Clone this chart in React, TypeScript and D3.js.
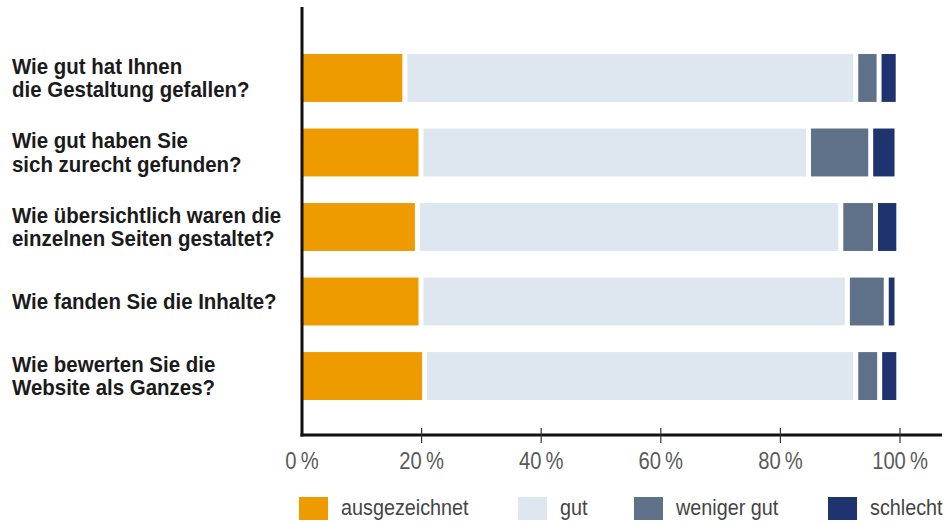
import React from "react";
import * as d3 from "d3";

// ---- data ----
const categories = [
  "Wie gut hat Ihnen\ndie Gestaltung gefallen?",
  "Wie gut haben Sie\nsich zurecht gefunden?",
  "Wie übersichtlich waren die\neinzelnen Seiten gestaltet?",
  "Wie fanden Sie die Inhalte?",
  "Wie bewerten Sie die\nWebsite als Ganzes?",
];
const seriesNames = ["ausgezeichnet", "gut", "weniger gut", "schlecht"];
const ausgezeichnet = [17.2, 19.9, 19.3, 19.9, 20.5];
const gut = [75.4, 64.8, 70.8, 71.3, 72.1];
const wenigerGut = [3.9, 10.4, 5.8, 6.5, 4.0];
const schlecht = [3.2, 4.4, 3.9, 1.8, 3.2];
const tickValues = [0, 20, 40, 60, 80, 100];
const tickLabels = ["0\u202F%", "20\u202F%", "40\u202F%", "60\u202F%", "80\u202F%", "100\u202F%"];

const colors = ["#EE9B00", "#DEE7F0", "#5F7189", "#1F346F"];
const sans = "'Liberation Sans', Arial, 'DejaVu Sans', sans-serif";

const W = 946;
const H = 523;

export default function App() {
  const rows = categories.map((c, i) => ({
    cat: c,
    ausgezeichnet: ausgezeichnet[i],
    gut: gut[i],
    "weniger gut": wenigerGut[i],
    schlecht: schlecht[i],
  }));
  const stack = d3.stack<any>().keys(seriesNames)(rows);

  const x = d3.scaleLinear().domain([0, 100]).range([302, 900]);
  const y = d3
    .scaleBand<string>()
    .domain(categories)
    .range([54, 400])
    .paddingInner(0.357)
    .paddingOuter(0);
  const color = d3.scaleOrdinal<string, string>().domain(seriesNames).range(colors);
  const gap = 5;
  const axisY = 435;
  const legendX = [299, 518, 634, 828];

  return (
    <svg
      width={W}
      height={H}
      style={{ position: "absolute", left: 0, top: 0, background: "#fff" }}
    >
      {/* bars */}
      {stack.map((s, si) => (
        <g key={s.key} fill={color(s.key)}>
          {s.map((d, i) => {
            const x0 = x(d[0]) + (si === 0 ? 0 : gap / 2);
            const x1 = x(d[1]) - gap / 2;
            return (
              <rect
                key={i}
                x={x0}
                y={y(categories[i])}
                width={Math.max(0, x1 - x0)}
                height={y.bandwidth()}
              />
            );
          })}
        </g>
      ))}

      {/* category labels */}
      {categories.map((c) => {
        const lines = c.split("\n");
        const cy = (y(c) as number) + y.bandwidth() / 2;
        const lh = 23.5;
        const first = cy + 7.5 - ((lines.length - 1) * lh) / 2;
        return (
          <g key={c}>
            {lines.map((l, li) => (
              <text
                key={li}
                transform={`translate(12,${first + li * lh}) scale(0.93,1)`}
                fontFamily={sans}
                fontWeight="bold"
                fontSize={22}
                fill="#1b1b1b"
              >
                {l}
              </text>
            ))}
          </g>
        );
      })}

      {/* axes */}
      <line x1={302} x2={302} y1={7} y2={axisY + 1.5} stroke="#111" strokeWidth={3} />
      <line x1={300.5} x2={942} y1={axisY} y2={axisY} stroke="#111" strokeWidth={3} />
      {tickValues.map((t, i) => (
        <g key={t}>
          {t > 0 && (
            <line x1={x(t)} x2={x(t)} y1={428} y2={443} stroke="#333" strokeWidth={1.2} />
          )}
          <text
            transform={`translate(${x(t)},469) scale(0.86,1)`}
            textAnchor="middle"
            fontFamily={sans}
            fontSize={23.5}
            fill="#5a5a5a"
          >
            {tickLabels[i]}
          </text>
        </g>
      ))}

      {/* legend */}
      {seriesNames.map((n, i) => (
        <g key={n}>
          <rect x={legendX[i]} y={497} width={29} height={23} fill={color(n)} />
          <text
            transform={`translate(${legendX[i] + 42},514.5) scale(0.9,1)`}
            fontFamily={sans}
            fontSize={22}
            fill="#444"
          >
            {n}
          </text>
        </g>
      ))}
    </svg>
  );
}
